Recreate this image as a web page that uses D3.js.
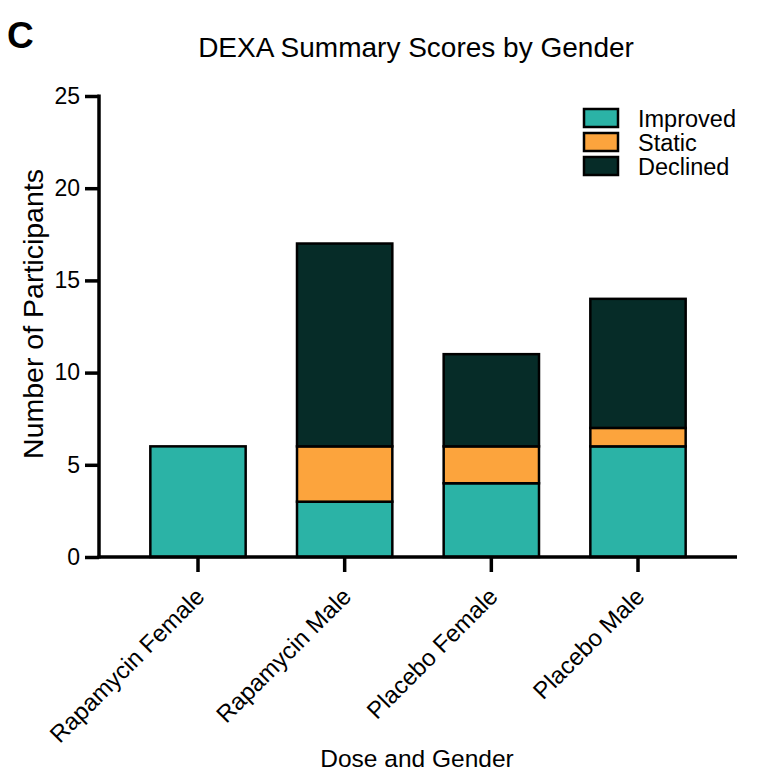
<!DOCTYPE html>
<html><head><meta charset="utf-8">
<script src="https://cdn.jsdelivr.net/npm/d3@7"></script>
<style>body{margin:0;background:#fff;} text{font-family:"Liberation Sans",Arial,sans-serif;fill:#000;}</style>
</head><body>
<svg id="c" width="767" height="782"></svg>
<script>
const categories = ["Rapamycin Female","Rapamycin Male","Placebo Female","Placebo Male"];
const improved = [6, 3, 4, 6];
const staticVals = [0, 3, 2, 1];
const declined = [0, 11, 5, 7];
const seriesNames = ["Improved","Static","Declined"];
const seriesColors = ["#2bb3a6","#fca43d","#062c28"];
const yTicks = [0,5,10,15,20,25];

(function(){
const svg = d3.select("#c");
const mL = 99, mR = 737, mT = 96, mB = 557;
const x = d3.scaleBand().domain(categories).range([mL, mR]).paddingInner(0.35).paddingOuter(0.35);
const y = d3.scaleLinear().domain([0,25]).range([mB, mT]);

const rows = categories.map((c,i)=>({cat:c, Improved:improved[i], Static:staticVals[i], Declined:declined[i]}));
const stack = d3.stack().keys(seriesNames)(rows);

svg.append("text").attr("x",7).attr("y",48).attr("font-size",37).attr("font-weight","bold").text("C");
svg.append("text").attr("x",416).attr("y",57).attr("text-anchor","middle").attr("font-size",28).text("DEXA Summary Scores by Gender");

stack.forEach((s,si)=>{
  svg.append("g").selectAll("rect").data(s.filter(d=>d[1]-d[0]>0)).join("rect")
    .attr("x",d=>x(d.data.cat)).attr("width",x.bandwidth())
    .attr("y",d=>y(d[1])).attr("height",d=>y(d[0])-y(d[1]))
    .attr("fill",seriesColors[si]).attr("stroke","#000").attr("stroke-width",2.5);
});

const ya = svg.append("g").attr("transform",`translate(${mL},0)`)
  .call(d3.axisLeft(y).tickValues(yTicks).tickSize(14).tickPadding(5).tickSizeOuter(0));
ya.select(".domain").attr("stroke-width",3.5).attr("d",`M0,${mB+1.5}V${mT-1.5}`);
ya.selectAll(".tick line").attr("stroke-width",3.5);
ya.selectAll(".tick text").attr("font-size",23).attr("font-family","Liberation Sans, Arial, sans-serif").attr("fill","#000");

const xa = svg.append("g").attr("transform",`translate(0,${mB})`)
  .call(d3.axisBottom(x).tickSize(15).tickPadding(8).tickSizeOuter(0));
xa.select(".domain").attr("stroke-width",3.5).attr("d",`M${mL-1.5},0H${mR}`);
xa.selectAll(".tick line").attr("stroke-width",3.5);
xa.selectAll(".tick text").attr("font-size",24).attr("font-family","Liberation Sans, Arial, sans-serif").attr("fill","#000")
  .attr("text-anchor","end").attr("dy","0.35em")
  .attr("transform","translate(2,35) rotate(-45)").attr("y",0).attr("x",0);

svg.append("text").attr("transform","translate(43,314) rotate(-90)").attr("text-anchor","middle").attr("font-size",28.5).text("Number of Participants");
svg.append("text").attr("x",417).attr("y",767).attr("text-anchor","middle").attr("font-size",24.5).text("Dose and Gender");

const lg = svg.append("g");
seriesNames.forEach((n,i)=>{
  lg.append("rect").attr("x",584).attr("y",109+i*24).attr("width",34).attr("height",18)
    .attr("fill",seriesColors[i]).attr("stroke","#000").attr("stroke-width",2.5);
  lg.append("text").attr("x",638).attr("y",127+i*24).attr("font-size",23.5).text(n);
});
})();
</script>
</body></html>
